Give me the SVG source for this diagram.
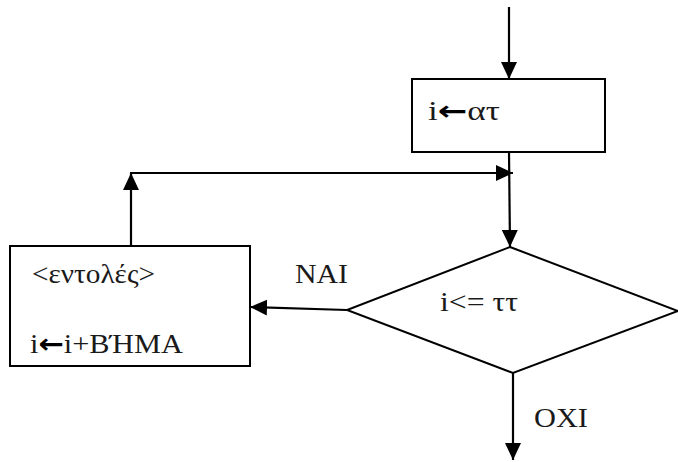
<svg xmlns="http://www.w3.org/2000/svg" width="678" height="462" viewBox="0 0 678 462">
<style>
.shape{fill:#fff;stroke:#000;stroke-width:2}
.conn{fill:none;stroke:#000;stroke-width:2.2}
text{font-family:'Liberation Serif',serif;font-size:27px;fill:#1a1a1a}
.ar{font-family:'DejaVu Sans',sans-serif;font-weight:bold;fill:#000}
</style>
<defs>
<marker id="ah" markerUnits="userSpaceOnUse" markerWidth="18" markerHeight="16" refX="17" refY="8" orient="auto">
<path d="M0,0 L17,8 L0,16 Z" fill="#000"/>
</marker>
</defs>
<rect width="678" height="462" fill="#fff"/>
<g id="init">
<rect class="shape" x="412" y="79" width="193" height="73"/>
<text x="428" y="120" textLength="72" lengthAdjust="spacingAndGlyphs">i<tspan class="ar">←</tspan>ατ</text>
</g>
<g id="decision">
<polygon class="shape" points="510,247 678,311 513,373 347,310"/>
<text x="440" y="311" textLength="78" lengthAdjust="spacingAndGlyphs">i&lt;= ττ</text>
</g>
<g id="body">
<rect class="shape" x="10" y="246" width="240" height="120"/>
<text x="32" y="283" textLength="123" lengthAdjust="spacingAndGlyphs">&lt;εντολές&gt;</text>
<text x="30" y="353" textLength="153" lengthAdjust="spacingAndGlyphs">i<tspan class="ar">←</tspan>i+ΒΉΜΑ</text>
</g>
<g id="connectors">
<line class="conn" x1="509" y1="7" x2="509" y2="79" marker-end="url(#ah)"/>
<line class="conn" x1="509" y1="152" x2="510" y2="247" marker-end="url(#ah)"/>
<line class="conn" x1="131" y1="246" x2="131" y2="173" marker-end="url(#ah)"/>
<line class="conn" x1="130" y1="173" x2="513" y2="173" marker-end="url(#ah)"/>
<line class="conn" x1="347" y1="310" x2="250" y2="307" marker-end="url(#ah)"/>
<line class="conn" x1="513" y1="373" x2="513" y2="460" marker-end="url(#ah)"/>
<text x="295" y="283" textLength="53" lengthAdjust="spacingAndGlyphs">ΝΑΙ</text>
<text x="534" y="427" textLength="54" lengthAdjust="spacingAndGlyphs">ΟΧΙ</text>
</g>
</svg>
